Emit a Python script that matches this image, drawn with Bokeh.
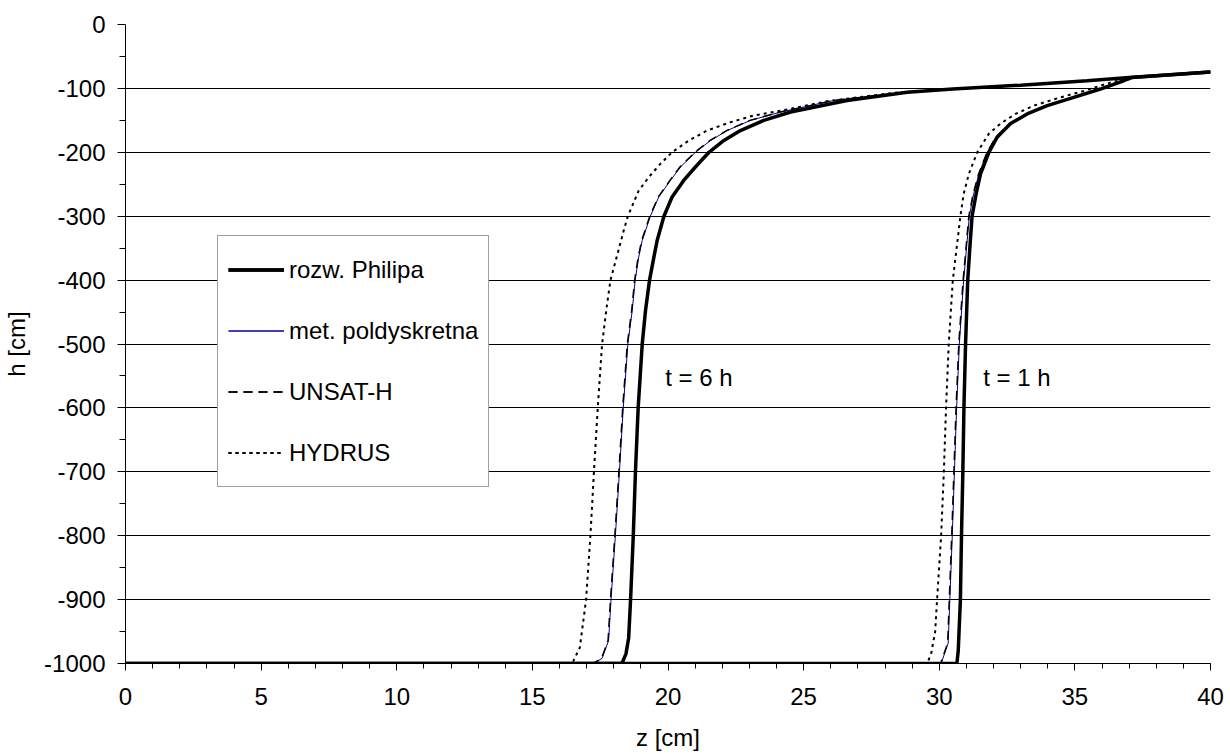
from bokeh.plotting import figure
from bokeh.models import (Range1d, FixedTicker, Legend, LegendItem, ColumnDataSource,
                          CustomJSTickFormatter)
from bokeh.core.properties import value
from bokeh.embed import file_html
from bokeh.resources import INLINE

FONT = "Liberation Sans"
FS = "24px"

# ---------------- data ----------------
X_TICKS = [0, 5, 10, 15, 20, 25, 30, 35, 40]
X_MINOR = [i for i in range(0, 41)]
Y_TICKS = [0, -100, -200, -300, -400, -500, -600, -700, -800, -900, -1000]
Y_MINOR = [-50, -150, -250, -350, -450, -550, -650, -750, -850, -950]

# rozw. Philipa (analytical), t = 6 h
philip6_z = [0, 18.30, 18.45, 18.55, 18.62, 18.72, 18.80, 18.90, 19.05, 19.17, 19.32, 19.48, 19.60, 19.85, 20.15, 20.58, 21.01, 21.51, 22.06, 22.67, 23.53, 24.52, 26.6, 28.82, 30.5, 33.0, 35.45, 37.0, 40]
philip6_h = [-1000, -1000, -985, -960, -900, -800, -700, -600, -500, -448, -400, -364, -338, -300, -270, -244, -223, -200, -181.5, -166, -150, -137, -119, -106, -101, -95, -88, -83, -74.5]
# rozw. Philipa, t = 1 h
philip1_z = [0, 30.65, 30.70, 30.78, 30.82, 30.87, 30.91, 30.97, 31.05, 31.13, 31.21, 31.36, 31.52, 31.83, 32.14, 32.63, 33.24, 33.98, 34.96, 35.94, 36.8, 37.1, 40]
philip1_h = [-1000, -1000, -980, -900, -800, -700, -600, -500, -400, -348, -300, -265, -234, -200, -176, -155, -140, -127, -114, -101, -88, -83, -74.5]

# met. poldyskretna, t = 6 h
pold6_z = [0, 17.26, 17.57, 17.81, 17.90, 18.06, 18.21, 18.35, 18.52, 18.68, 18.79, 18.92, 19.05, 19.35, 19.66, 20.09, 20.46, 21.01, 21.57, 22.18, 23.04, 24.15, 26.1, 28.6, 30.5, 33.0, 35.45, 37.0, 40]
pold6_h = [-1000, -1000, -992, -964, -900, -800, -700, -600, -500, -448, -400, -364, -338, -300, -270, -244, -223, -200, -181.5, -166, -150, -137, -119, -106.5, -101, -95, -88, -83, -74.5]
# met. poldyskretna, t = 1 h
pold1_z = [0, 30.07, 30.33, 30.39, 30.48, 30.56, 30.64, 30.74, 30.90, 31.11, 31.27, 31.46, 31.77, 32.10, 32.60, 33.22, 33.96, 34.95, 35.93, 36.8, 37.1, 40]
pold1_h = [-1000, -1000, -968, -900, -800, -700, -600, -500, -400, -300, -265, -234, -200, -176, -155, -140, -127, -114, -101, -88, -83, -74.5]

# UNSAT-H, t = 6 h
unsat6_z = [0, 17.24, 17.55, 17.79, 17.88, 18.04, 18.19, 18.33, 18.50, 18.66, 18.77, 18.90, 19.03, 19.33, 19.64, 20.07, 20.44, 20.99, 21.55, 22.16, 23.02, 24.13, 26.1, 28.6, 30.5, 33.0, 35.45, 37.0, 40]
unsat6_h = [-1000, -1000, -992, -964, -900, -800, -700, -600, -500, -448, -400, -364, -338, -300, -270, -244, -223, -200, -181.5, -166, -150, -137, -119, -106.5, -101, -95, -88, -83, -74.5]
# UNSAT-H, t = 1 h
unsat1_z = [0, 30.05, 30.31, 30.37, 30.46, 30.54, 30.62, 30.72, 30.88, 31.09, 31.25, 31.45, 31.76, 32.09, 32.60, 33.22, 33.96, 34.95, 35.93, 36.8, 37.1, 40]
unsat1_h = [-1000, -1000, -968, -900, -800, -700, -600, -500, -400, -300, -265, -234, -200, -176, -155, -140, -127, -114, -101, -88, -83, -74.5]

# HYDRUS, t = 6 h
hydrus6_z = [0, 16.40, 16.50, 16.75, 16.98, 17.14, 17.27, 17.41, 17.57, 17.74, 17.88, 18.17, 18.37, 18.52, 18.92, 19.29, 19.72, 20.15, 20.77, 21.44, 22.30, 23.16, 24.52, 25.87, 28.3, 30.5, 33.0, 35.45, 37.0, 40]
hydrus6_h = [-1000, -1000, -997, -975, -900, -800, -700, -600, -500, -442, -400, -354, -322, -300, -260, -239, -218, -200, -181.5, -166, -153, -142.4, -132, -120, -107, -101, -95, -88, -83, -74.5]
# HYDRUS, t = 1 h
hydrus1_z = [0, 29.55, 29.70, 29.85, 29.92, 30.07, 30.17, 30.25, 30.35, 30.50, 30.78, 30.90, 31.09, 31.40, 31.83, 32.26, 32.81, 33.49, 34.47, 35.33, 36.3, 37.1, 40]
hydrus1_h = [-1000, -1000, -985, -950, -900, -800, -700, -600, -500, -400, -300, -265, -234, -200, -171, -155, -140, -127, -114, -104, -91, -83, -74.5]

annot_z = [19.9, 31.62]
annot_h = [-553, -553]
annot_text = ["t = 6 h", "t = 1 h"]

legend_labels = ["rozw. Philipa", "met. poldyskretna", "UNSAT-H", "HYDRUS"]

# ---------------- figure ----------------
p = figure(width=1230, height=754, output_backend="svg", toolbar_location=None,
           x_range=Range1d(0, 40), y_range=Range1d(-1000, 0),
           min_border_left=125, min_border_right=20, min_border_top=24, min_border_bottom=91)
p.outline_line_color = None
p.background_fill_color = "white"
p.border_fill_color = "white"

BLUE = "#000099"

r_h6 = p.line(hydrus6_z, hydrus6_h, line_color="black", line_width=2, line_dash="3 4")
r_h1 = p.line(hydrus1_z, hydrus1_h, line_color="black", line_width=2, line_dash="3 4")
r_p6 = p.line(pold6_z, pold6_h, line_color=BLUE, line_width=1)
r_p1 = p.line(pold1_z, pold1_h, line_color=BLUE, line_width=1)
r_u6 = p.line(unsat6_z, unsat6_h, line_color="black", line_width=1.5, line_dash="9 6")
r_u1 = p.line(unsat1_z, unsat1_h, line_color="black", line_width=1.5, line_dash="9 6")
r_a6 = p.line(philip6_z, philip6_h, line_color="black", line_width=3.5)
r_a1 = p.line(philip1_z, philip1_h, line_color="black", line_width=3.5)

src = ColumnDataSource(dict(x=annot_z, y=annot_h, t=annot_text))
p.text(x="x", y="y", text="t", source=src, text_font=value(FONT), text_font_size=FS,
       text_baseline="middle", text_align="left", text_color="black")

fmt = "return tick.toFixed(0);"
for ax in (p.xaxis[0], p.yaxis[0]):
    ax.formatter = CustomJSTickFormatter(code=fmt)
    ax.axis_line_color = "black"
    ax.axis_line_width = 1
    ax.major_tick_line_color = "black"
    ax.minor_tick_line_color = "black"
    ax.major_tick_in = 0
    ax.minor_tick_in = 0
    ax.major_label_text_font = FONT
    ax.major_label_text_font_size = FS
    ax.major_label_text_color = "black"
    ax.axis_label_text_font = FONT
    ax.axis_label_text_font_size = FS
    ax.axis_label_text_font_style = "normal"
    ax.axis_label_text_color = "black"

p.xaxis[0].ticker = FixedTicker(ticks=X_TICKS, minor_ticks=X_MINOR)
p.yaxis[0].ticker = FixedTicker(ticks=Y_TICKS, minor_ticks=Y_MINOR)
p.xaxis[0].major_tick_out = 7
p.xaxis[0].minor_tick_out = 5
p.yaxis[0].major_tick_out = 8
p.yaxis[0].minor_tick_out = 6
p.xaxis[0].major_label_standoff = 17
p.yaxis[0].major_label_standoff = 12
p.xaxis[0].axis_label = "z [cm]"
p.yaxis[0].axis_label = "h [cm]"
p.xaxis[0].axis_label_standoff = 16
p.yaxis[0].axis_label_standoff = 11

p.xgrid.visible = False
p.ygrid.ticker = FixedTicker(ticks=Y_TICKS)
p.ygrid.grid_line_color = "black"
p.ygrid.grid_line_width = 1

legend = Legend(items=[
    LegendItem(label=legend_labels[0], renderers=[r_a6, r_a1]),
    LegendItem(label=legend_labels[1], renderers=[r_p6, r_p1]),
    LegendItem(label=legend_labels[2], renderers=[r_u6, r_u1]),
    LegendItem(label=legend_labels[3], renderers=[r_h6, r_h1]),
], location=(92, 176))
legend.padding = 10
legend.spacing = 14
legend.glyph_height = 47
legend.glyph_width = 56
legend.label_standoff = 5
legend.margin = 0
legend.border_line_color = "#404040"
legend.border_line_width = 1
legend.background_fill_color = "white"
legend.background_fill_alpha = 1
legend.label_text_font = FONT
legend.label_text_font_size = FS
legend.label_text_color = "black"
p.add_layout(legend)

open("out.html", "w").write(file_html(p, INLINE))
